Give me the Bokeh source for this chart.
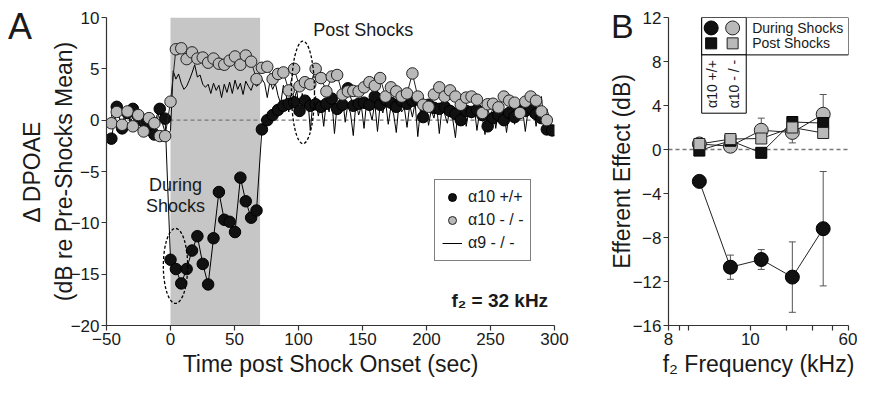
import math
from bokeh.plotting import figure
from bokeh.models import (BoxAnnotation, Span, Label, Legend, LegendItem, FixedTicker,
                          Whisker, TeeHead, ColumnDataSource, Div)
from bokeh.layouts import row
from bokeh.embed import file_html
from bokeh.resources import INLINE

FONT = "Liberation Sans"
INK = "#1a1a1a"
GRAY_FILL = "#b9b9b9"

# ---------------- Panel A data (f2 = 32 kHz) ----------------
sample_start = -46.2          # s, first marker sample
sample_step = 4.2             # s, marker sampling period
wt_delta = [  # alpha10 +/+
    -1.8, 1.3, -0.8, 0.7, 1.1, 0.4, -0.15, -0.9, -1.4, 1.1, 0.15,
    -13.6, -14.5, -15.9, -14.5, -12.7, -11.3, -14.0, -16.0, -11.5, -7.0, -9.7, -9.9,
    -10.9, -5.6, -7.9, -9.5, -8.8, -0.9,
    0.0, 0.5, 1.0, 1.4, 1.6, 1.75, 0.9, 1.9, 1.4, 1.55, 1.3, 1.6, 2.1, 1.1, 1.5, 3.1,
    1.4, 1.6, 1.7, 1.5, 2.3, 1.5, 2.0, 1.7, 1.3, 1.9, 1.6, 1.9, 2.0, 0.3, 1.5, 1.2,
    1.1, 1.3, 0.9, 0.6, 0.0, 0.9, 0.8, 1.0, 0.5, -0.6, 0.2, 0.5, 0.0, 0.7, 0.3, 1.0,
    0.9, 1.2, 0.6, 0.2, -0.9, -1.0]
ko_delta = [  # alpha10 -/-
    -0.3, 0.8, -0.45, 0.85, -0.6, 0.5, -1.1, 0.2, -0.3, -1.55, -1.55,
    1.8, 6.9, 7.0, 5.95, 6.6, 6.0, 6.1, 5.6, 6.0, 5.5, 5.4, 5.8, 6.2, 5.4, 6.3, 5.7,
    4.0, 5.1, 5.2, 4.0, 4.5, 4.65, 2.9, 5.0, 3.3, 3.7, 3.5, 5.0, 4.1, 2.8, 4.25, 4.4,
    2.5, 2.8, 2.85, 2.8, 3.2, 3.7, 3.35, 4.1, 2.3, 3.2, 2.8, 2.3, 2.6, 4.55, 2.3, 1.5,
    1.3, 2.5, 3.2, 2.3, 2.9, 2.3, 1.5, 2.2, 2.3, 2.0, 0.7, 1.55, 1.6, 1.25, 2.3, 1.9,
    1.7, 0.7, 1.8, 2.3, 1.9, 0.85, 0.0]
line_start = -46.2            # s, first alpha9 sample
line_step = 2.1               # s, alpha9 sampling period
a9_delta = [  # alpha9 -/-
    0.5, -0.3, 0.8, 0.2, -0.5, 0.6, 1.0, -0.2, 0.3, 0.9, -0.4, 0.1, 0.7, -0.6, 0.4,
    0.2, -0.8, 0.5, 0.9, -0.3, -1.2, -1.6,
    -1.0, 4.8, 4.0, 4.5, 3.6, 3.0, 3.3, 3.9, 4.6, 5.4, 4.2, 4.4, 3.5, 3.2, 3.5, 2.6,
    3.6, 2.9, 3.4, 2.2, 3.5, 2.7, 3.7, 2.6, 3.9, 3.0, 3.6, 2.5, 3.8, 3.3, 2.9, 3.7,
    3.3, 3.5, 4.0, 3.6, 2.2, 3.8, 3.0, 3.6, 2.4, 1.6, 3.4, 2.5, 0.8, 3.3, 2.0, 2.9,
    0.5, 2.6, 1.2, 2.4, -1.0, 1.8, 2.3, 0.4, 1.6, -0.6, 1.9, 0.8, 2.0, -1.3, 1.5, 0.9,
    2.2, -0.2, 1.6, 0.6, -1.5, 1.8, 0.5, 1.4, -0.8, 1.9, 1.0, 0.0, 1.7, -1.1, 1.5, 0.7,
    1.9, -0.4, 1.3, 0.6, -1.2, 1.6, 0.8, 1.2, -0.7, 1.5, 0.3, 1.7, -1.6, 1.1, 0.4, 1.4,
    -0.5, 1.0, 0.2, 1.5, -1.3, 1.2, 0.6, -0.3, 1.3, 0.1, -1.7, 1.1, 0.5, 1.2, -0.6, 0.9,
    0.2, 1.3, -1.0, 0.8, 0.3, -1.4, 1.0, 0.4, 1.2, -0.8, 0.9, 0.1, 1.1, -1.2, 0.7, 1.3,
    -0.4, 0.8, 0.2, 1.0, -1.1, 0.9, 0.3, 1.4, -0.6, 1.0, 2.3, -0.5, 1.1, 0.2]
shock_window = (0, 70)
a_xticks = [-50, 0, 50, 100, 150, 200, 250, 300]
a_yticks = [-20, -15, -10, -5, 0, 5, 10]

# ---------------- Panel B data ----------------
f2_khz = [11.3, 16.0, 22.6, 32.0, 45.2]
wt_during = [-2.9, -10.7, -10.0, -11.6, -7.2]
wt_during_err = [0.3, 1.1, 0.9, 3.2, 5.2]
ko_during = [0.5, 0.3, 1.75, 1.55, 3.2]
ko_during_err = [0.3, 0.3, 1.1, 0.95, 1.8]
wt_post = [-0.1, 0.8, -0.3, 2.5, 2.4]
ko_post = [0.5, 0.95, 1.0, 2.0, 1.5]
b_xticks = [8, 9, 10, 20, 30, 40, 50, 60]
b_xlabels = {8: "8", 9: "", 10: "", 20: "10", 30: "", 40: "", 50: "", 60: "60"}
b_yticks = [-16, -12, -8, -4, 0, 4, 8, 12]


def style(p, tick_size="17px", label_size="23px"):
    p.outline_line_color = None
    p.xgrid.grid_line_color = None
    p.ygrid.grid_line_color = None
    p.background_fill_color = "white"
    p.border_fill_color = "white"
    for ax in (p.xaxis[0], p.yaxis[0]):
        ax.axis_line_color = "#333"
        ax.axis_line_width = 1.2
        ax.major_tick_line_color = "#333"
        ax.major_tick_line_width = 1.2
        ax.major_tick_out = 5
        ax.major_tick_in = 0
        ax.minor_tick_line_color = None
        ax.major_label_text_font = FONT
        ax.major_label_text_font_size = tick_size
        ax.major_label_text_color = INK
        ax.major_label_standoff = 2
        ax.axis_label_text_font = FONT
        ax.axis_label_text_font_size = label_size
        ax.axis_label_text_font_style = "normal"
        ax.axis_label_text_color = INK
        ax.axis_label_standoff = 3


# ================= Panel A =================
pA = figure(width=598, height=379, x_range=(-50, 300), y_range=(-20, 10),
            output_backend="svg", toolbar_location=None,
            min_border_left=106, min_border_right=44, min_border_top=17, min_border_bottom=40)
style(pA)
pA.yaxis.axis_label_standoff = -9
pA.xaxis.ticker = FixedTicker(ticks=a_xticks)
pA.yaxis.ticker = FixedTicker(ticks=a_yticks)
pA.xaxis.axis_label = "Time post Shock Onset (sec)"
pA.yaxis.axis_label = "\u0394 DPOAE\n(dB re Pre-Shocks Mean)"

pA.add_layout(BoxAnnotation(left=shock_window[0], right=shock_window[1],
                            fill_color="#c6c6c6", fill_alpha=1, line_color=None,
                            level="underlay"))
pA.add_layout(Span(location=0, dimension="width", line_color="#777",
                   line_dash="4 3", line_width=1.3, level="underlay"))

wt_t = [round(sample_start + sample_step * i, 2) for i in range(len(wt_delta))]
ko_t = [round(sample_start + sample_step * i, 2) for i in range(len(ko_delta))]
a9_t = [round(line_start + line_step * i, 2) for i in range(len(a9_delta))]

a9_r = pA.line(a9_t, a9_delta, line_color="black", line_width=1)
pA.line(wt_t, wt_delta, line_color="black", line_width=1)
wt_r = pA.scatter(wt_t, wt_delta, marker="circle", size=11.5,
                  fill_color="#111111", line_color="black", line_width=1)
pA.line(ko_t, ko_delta, line_color="#222", line_width=1)
ko_r = pA.scatter(ko_t, ko_delta, marker="circle", size=11.5,
                  fill_color=GRAY_FILL, line_color="#222", line_width=1)

# dashed ellipses marking the sampled epochs
pA.ellipse(x=[3.9], y=[-14.2], width=19, height=7.3, fill_color=None,
           line_color="black", line_dash="3 2", line_width=1.3)
pA.ellipse(x=[103.5], y=[2.7], width=18, height=10, fill_color=None,
           line_color="black", line_dash="3 2", line_width=1.3)

for txt, yy in (("During", -6.3), ("Shocks", -8.4)):
    pA.add_layout(Label(x=3.9, y=yy, text=txt, text_align="center", text_baseline="middle",
                        text_font=FONT, text_font_size="18px", text_color=INK))
pA.add_layout(Label(x=111.5, y=8.8, text="Post Shocks", text_align="left",
                    text_baseline="middle", text_font=FONT, text_font_size="18px",
                    text_color=INK))
pA.add_layout(Label(x=295, y=-17.6, text="f\u2082 = 32 kHz", text_align="right",
                    text_baseline="middle", text_font=FONT, text_font_size="19px",
                    text_font_style="bold", text_color=INK))

legA = Legend(items=[LegendItem(label="\u03b110 +/+", renderers=[wt_r]),
                     LegendItem(label="\u03b110 - / -", renderers=[ko_r]),
                     LegendItem(label="\u03b19 - / -", renderers=[a9_r])],
              location=(328, 64), border_line_color="black", border_line_width=1,
              background_fill_color="white", background_fill_alpha=1,
              label_text_font=FONT, label_text_font_size="16px", label_text_color=INK,
              glyph_width=20, glyph_height=20, label_height=20, spacing=3,
              padding=7, margin=0, label_standoff=6)
pA.add_layout(legA)

# ================= Panel B =================
pB = figure(width=259, height=379, x_axis_type="log", x_range=(8, 60), y_range=(-16, 12),
            output_backend="svg", toolbar_location=None,
            min_border_left=70, min_border_right=9, min_border_top=17, min_border_bottom=40)
style(pB)
pB.yaxis.axis_label_standoff = -5
pB.xaxis.ticker = FixedTicker(ticks=b_xticks, minor_ticks=[])
pB.xaxis.major_label_overrides = b_xlabels
pB.yaxis.ticker = FixedTicker(ticks=b_yticks)
pB.xaxis.axis_label = "f\u2082 Frequency (kHz)"
pB.yaxis.axis_label = "Efferent Effect (dB)"

pB.add_layout(Span(location=0, dimension="width", line_color="#777",
                   line_dash="4 3", line_width=1.3, level="underlay"))

for vals, errs in ((wt_during, wt_during_err), (ko_during, ko_during_err)):
    src = ColumnDataSource(dict(x=f2_khz,
                                upper=[v + e for v, e in zip(vals, errs)],
                                lower=[v - e for v, e in zip(vals, errs)]))
    pB.add_layout(Whisker(source=src, base="x", upper="upper", lower="lower",
                          dimension="height", line_color="#555", line_width=1,
                          upper_head=TeeHead(size=7, line_color="#555"),
                          lower_head=TeeHead(size=7, line_color="#555")))

for vals in (wt_during, ko_during, wt_post, ko_post):
    pB.line(f2_khz, vals, line_color="#222", line_width=1)
pB.scatter(f2_khz, wt_during, marker="circle", size=14, fill_color="#111111",
           line_color="black")
pB.scatter(f2_khz, ko_during, marker="circle", size=14, fill_color=GRAY_FILL,
           line_color="#222")
pB.scatter(f2_khz, wt_post, marker="square", size=11, fill_color="#111111",
           line_color="black")
pB.scatter(f2_khz, ko_post, marker="square", size=11, fill_color=GRAY_FILL,
           line_color="#222")

# legend table of panel B (annotation layout, in axis coordinates)
leg_left, leg_mid, leg_right = 11.6, 19.1, 60
leg_top, leg_rowbot, leg_bot = 12.0, 8.6, 3.3
for l, r, t, b in ((leg_left, leg_right, leg_top, leg_rowbot),
                   (leg_left, leg_mid, leg_top, leg_rowbot),
                   (leg_left, leg_mid, leg_rowbot, leg_bot)):
    pB.add_layout(BoxAnnotation(left=l, right=r, top=t, bottom=b, fill_color="white",
                                fill_alpha=1, line_color="black", line_width=1,
                                line_alpha=1, level="underlay"))
key_x = [12.9, 16.4]
key_y = [11.05, 9.65]
pB.scatter([key_x[0]], [key_y[0]], marker="circle", size=14, fill_color="#111111", line_color="black")
pB.scatter([key_x[1]], [key_y[0]], marker="circle", size=14, fill_color=GRAY_FILL, line_color="#222")
pB.scatter([key_x[0]], [key_y[1]], marker="square", size=11, fill_color="#111111", line_color="black")
pB.scatter([key_x[1]], [key_y[1]], marker="square", size=11, fill_color=GRAY_FILL, line_color="#222")
for txt, yy in (("During Shocks", key_y[0]), ("Post Shocks", key_y[1])):
    pB.add_layout(Label(x=20.4, y=yy, text=txt, text_align="left", text_baseline="middle",
                        text_font=FONT, text_font_size="14px", text_color=INK))
for txt, xx in (("\u03b110 +/+", 13.0), ("\u03b110 - / -", 16.6)):
    pB.add_layout(Label(x=xx, y=5.95, text=txt, angle=math.pi / 2, text_align="center",
                        text_baseline="middle", text_font=FONT, text_font_size="14px",
                        text_color=INK))

# panel letters (page text placed over the figures' top-left corners)
letter_css = {"position": "absolute", "font-family": FONT, "line-height": "1",
              "color": INK, "z-index": "10", "white-space": "nowrap"}
divA = Div(text="A", width=30, height=40, margin=0,
           styles=dict(letter_css, **{"left": "8px", "top": "9px", "font-size": "36px"}))
divB = Div(text="B", width=30, height=40, margin=0,
           styles=dict(letter_css, **{"left": "611px", "top": "9px", "font-size": "34px"}))

layout = row(pA, pB, divA, divB)
with open("out.html", "w") as fh:
    fh.write(file_html(layout, INLINE, title="DPOAE efferent effect"))
